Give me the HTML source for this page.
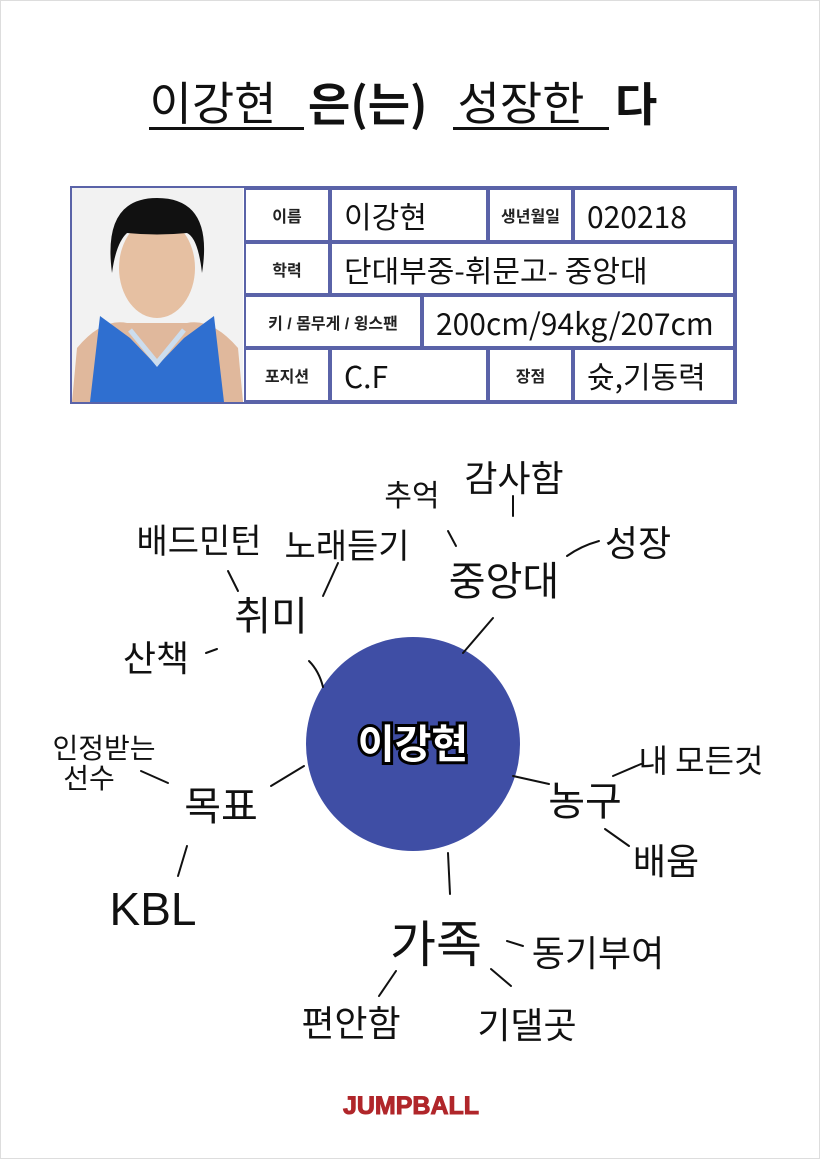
<!DOCTYPE html>
<html><head><meta charset="utf-8"><style>
body{margin:0;background:#fff}
#p{position:relative;width:818px;height:1157px;border:1px solid #ddd;overflow:hidden;font-family:"Liberation Sans","Noto Sans CJK KR",sans-serif}
.a{position:absolute;white-space:nowrap}
.h{font-family:"Noto Sans CJK KR","NanumGothic",sans-serif;font-weight:400;color:#111;transform:translate(-50%,-50%);line-height:1}
.c{position:absolute;border:2px solid #5a63a8;box-sizing:border-box;background:#fff;display:flex;align-items:center;justify-content:center;font-size:16px;font-weight:bold;color:#222}
.v{position:absolute;border:2px solid #5a63a8;box-sizing:border-box;background:#fff;display:flex;align-items:center;padding-left:12px;font-family:"Noto Sans CJK KR",sans-serif;font-weight:400;font-size:30px;color:#111;white-space:nowrap}
</style></head><body><div id="p">
<!-- title -->
<div class="a h" style="left:212px;top:100px;font-size:46px">이강현</div>
<div style="position:absolute;left:148px;top:126px;width:155px;height:3px;background:#111"></div>
<div class="a" style="left:307px;top:73px;font-size:46px;font-weight:bold;color:#111;font-family:'Noto Sans CJK KR',sans-serif;line-height:56px">은(는)</div>
<div class="a h" style="left:520px;top:100px;font-size:46px">성장한</div>
<div style="position:absolute;left:452px;top:126px;width:156px;height:3px;background:#111"></div>
<div class="a" style="left:614px;top:73px;font-size:46px;font-weight:bold;color:#111;font-family:'Noto Sans CJK KR',sans-serif;line-height:56px">다</div>
<!-- table -->
<div style="position:absolute;left:69px;top:185px;width:667px;height:218px;border:2px solid #5a63a8;box-sizing:border-box;background:#fff"></div>
<svg style="position:absolute;left:71px;top:187px" width="171" height="214">
<rect width="171" height="214" fill="#f2f2f2"/>
<path d="M0 214 L5 160 Q30 130 55 135 L115 135 Q140 130 166 160 L171 214Z" fill="#e0b89c"/>
<path d="M18 214 L28 128 L58 150 L85 178 L112 150 L142 128 L152 214Z" fill="#2f6fd0"/>
<path d="M58 142 L85 175 L112 142" stroke="#cde" stroke-width="5" fill="none"/>
<ellipse cx="85" cy="80" rx="38" ry="50" fill="#e6c0a2"/>
<path d="M40 85 Q30 10 85 10 Q142 10 130 85 Q126 50 115 45 Q85 48 55 45 Q44 55 40 85Z" fill="#111"/>
</svg>
<div class="c" style="left:243px;top:187px;width:86px;height:54px">이름</div>
<div class="v" style="left:329px;top:187px;width:158px;height:54px">이강현</div>
<div class="c" style="left:487px;top:187px;width:85px;height:54px">생년월일</div>
<div class="v" style="left:572px;top:187px;width:162px;height:54px">020218</div>
<div class="c" style="left:243px;top:241px;width:86px;height:53px">학력</div>
<div class="v" style="left:329px;top:241px;width:405px;height:53px;font-size:30px">단대부중-휘문고- 중앙대</div>
<div class="c" style="left:243px;top:294px;width:178px;height:53px">키 / 몸무게 / 윙스팬</div>
<div class="v" style="left:421px;top:294px;width:313px;height:53px;font-size:30px">200cm/94kg/207cm</div>
<div class="c" style="left:243px;top:347px;width:86px;height:54px">포지션</div>
<div class="v" style="left:329px;top:347px;width:158px;height:54px">C.F</div>
<div class="c" style="left:487px;top:347px;width:85px;height:54px">장점</div>
<div class="v" style="left:572px;top:347px;width:162px;height:54px">슛,기동력</div>
<!-- mind map -->
<svg style="position:absolute;left:0;top:0" width="820" height="1159">
<circle cx="412" cy="743" r="107" fill="#3f4ea5"/>
<g stroke="#111" stroke-width="2" fill="none" stroke-linecap="round">
<path d="M227 570 L237 590"/><path d="M337 562 L322 595"/><path d="M205 652 L216 648"/>
<path d="M308 660 Q318 670 322 686"/><path d="M447 530 L455 545"/><path d="M512 495 L512 515"/>
<path d="M566 555 Q580 545 598 540"/><path d="M492 617 L462 652"/><path d="M140 770 L167 782"/>
<path d="M270 785 L303 765"/><path d="M186 845 L177 875"/><path d="M512 775 L548 783"/>
<path d="M612 775 L640 763"/><path d="M604 828 L628 845"/><path d="M447 852 L449 893"/>
<path d="M506 940 L522 945"/><path d="M395 970 L378 995"/><path d="M490 968 L510 985"/>
</g>
<text x="412" y="757" text-anchor="middle" font-family="Noto Sans CJK KR,sans-serif" font-weight="bold" font-size="40" fill="#fff" stroke="#000" stroke-width="6" paint-order="stroke">이강현</text>
</svg>
<div class="a h" style="left:411px;top:492px;font-size:30px">추억</div>
<div class="a h" style="left:513px;top:475px;font-size:36px">감사함</div>
<div class="a h" style="left:637px;top:540px;font-size:36px">성장</div>
<div class="a h" style="left:503px;top:577px;font-size:40px">중앙대</div>
<div class="a h" style="left:198px;top:538px;font-size:34px">배드민턴</div>
<div class="a h" style="left:346px;top:543px;font-size:34px">노래듣기</div>
<div class="a h" style="left:270px;top:612px;font-size:40px">취미</div>
<div class="a h" style="left:155px;top:655px;font-size:36px">산책</div>
<div class="a h" style="left:103px;top:746px;font-size:28px">인정받는</div>
<div class="a h" style="left:88px;top:776px;font-size:28px">선수</div>
<div class="a h" style="left:220px;top:802px;font-size:40px">목표</div>
<div class="a h" style="left:152px;top:908px;font-size:46px;font-family:'Liberation Sans',sans-serif">KBL</div>
<div class="a h" style="left:584px;top:797px;font-size:40px">농구</div>
<div class="a h" style="left:700px;top:758px;font-size:32px">내 모든것</div>
<div class="a h" style="left:665px;top:858px;font-size:36px">배움</div>
<div class="a h" style="left:435px;top:940px;font-size:50px">가족</div>
<div class="a h" style="left:597px;top:950px;font-size:36px">동기부여</div>
<div class="a h" style="left:350px;top:1020px;font-size:36px">편안함</div>
<div class="a h" style="left:526px;top:1022px;font-size:36px">기댈곳</div>
<div class="a" style="left:320px;top:1091px;width:180px;text-align:center;font-size:25px;font-weight:900;color:#b0262a;font-family:'Liberation Sans',sans-serif;line-height:28px;-webkit-text-stroke:1px #b0262a">JUMPBALL</div>
</div></body></html>
